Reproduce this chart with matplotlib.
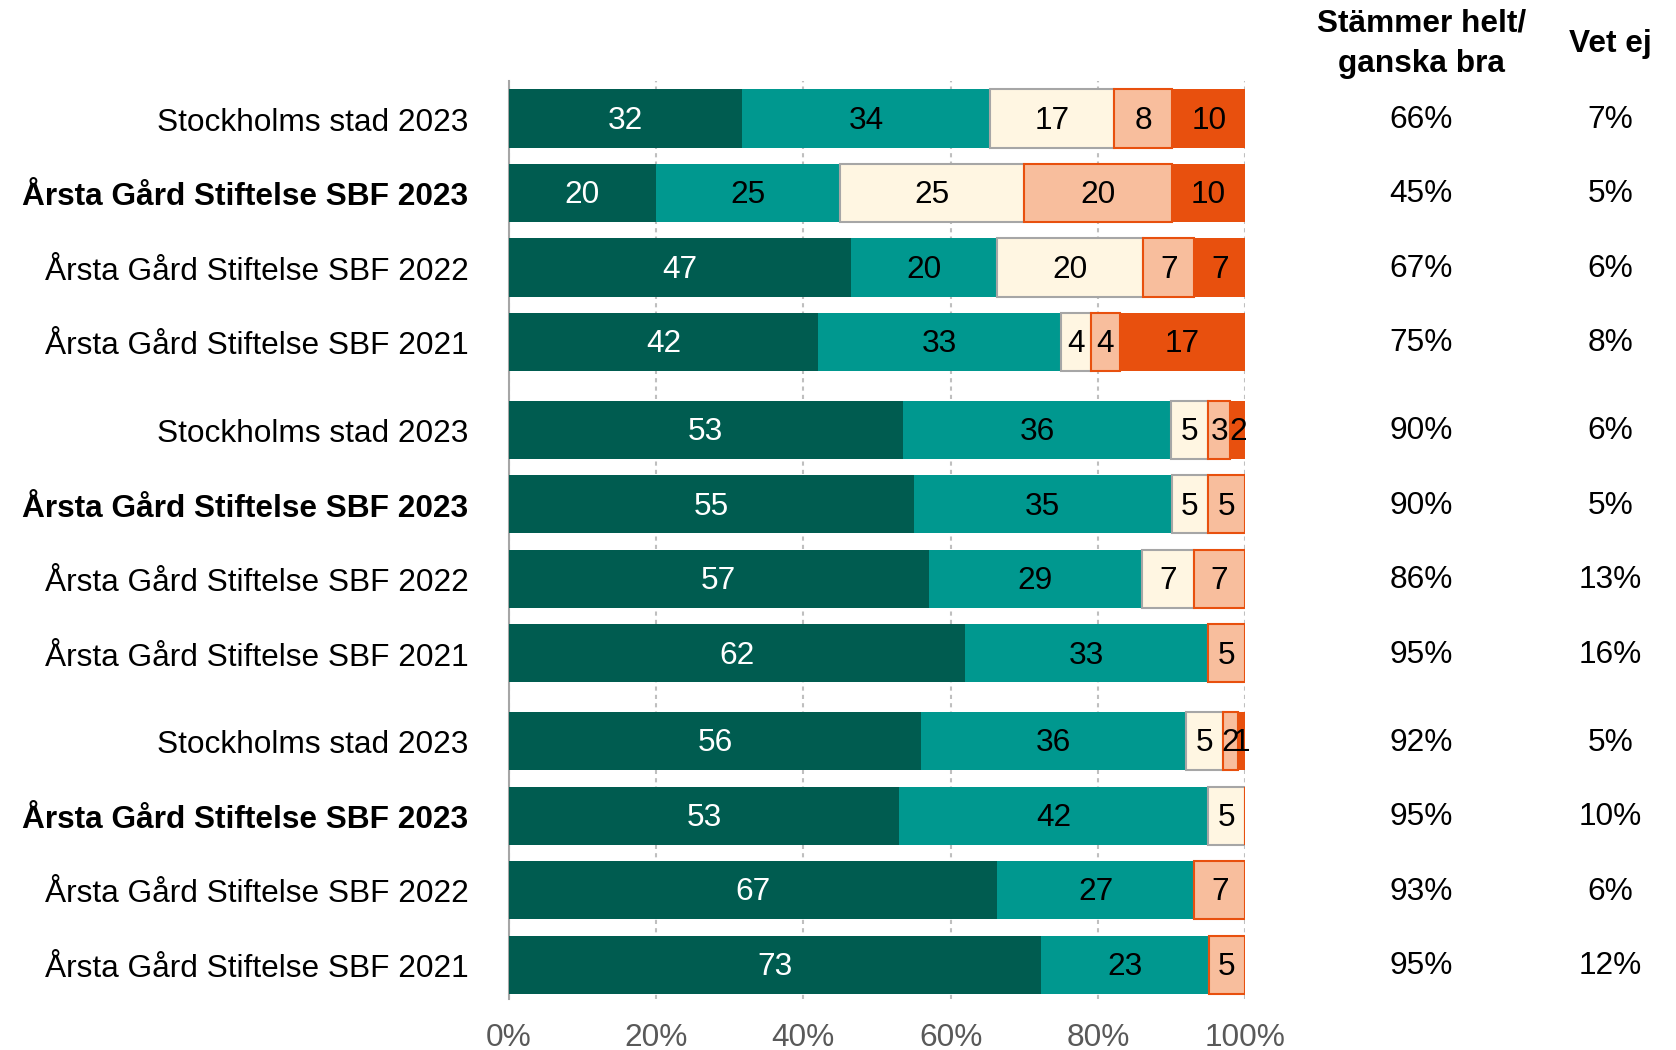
import numpy as np
import matplotlib.pyplot as plt
from matplotlib.transforms import blended_transform_factory

plt.rcParams['font.family'] = ['Liberation Sans', 'DejaVu Sans']

# Row labels (top to bottom)
labels = ['Stockholms stad 2023', 'Årsta Gård Stiftelse SBF 2023',
          'Årsta Gård Stiftelse SBF 2022', 'Årsta Gård Stiftelse SBF 2021'] * 3
bold_rows = [1, 5, 9]

# Segment values per row: stämmer helt, ganska bra, varken/eller, ganska dåligt, helt dåligt
seg1 = [32, 20, 47, 42, 53, 55, 57, 62, 56, 53, 67, 73]
seg2 = [34, 25, 20, 33, 36, 35, 29, 33, 36, 42, 27, 23]
seg3 = [17, 25, 20, 4, 5, 5, 7, 0, 5, 5, 0, 0]
seg4 = [8, 20, 7, 4, 3, 5, 7, 5, 2, 0, 7, 5]
seg5 = [10, 10, 7, 17, 2, 0, 0, 0, 1, 0, 0, 0]

agree = ['66%', '45%', '67%', '75%', '90%', '90%', '86%', '95%', '92%', '95%', '93%', '95%']
dont_know = ['7%', '5%', '6%', '8%', '6%', '5%', '13%', '16%', '5%', '10%', '6%', '12%']

colors = ['#005C50', '#00988F', '#FFF6E2', '#F8BE9D', '#E8500E']
edges = ['none', 'none', '#A6A6A6', '#E8500E', 'none']
text_colors = ['white', 'black', 'black', 'black', 'black']

data = np.array([seg1, seg2, seg3, seg4, seg5], dtype=float)
shares = data / data.sum(axis=0) * 100

gap = 0.18
ypos = np.array([i + (i // 4) * gap for i in range(12)])
fs = 22.8

fig = plt.figure(figsize=(16.76, 10.5), dpi=100)
ax = fig.add_axes([0.3035, 0.0486, 0.4395, 0.8744])

left = np.zeros(12)
for k in range(5):
    ax.barh(ypos, shares[k], left=left, height=0.78, color=colors[k],
            edgecolor=edges[k], linewidth=1.5, zorder=3)
    for i in range(12):
        if data[k, i] > 0:
            ax.text(left[i] + shares[k, i] / 2, ypos[i] + 0.03, f'{int(data[k, i])}',
                    ha='center', va='center', fontsize=fs, color=text_colors[k], zorder=4)
    left += shares[k]

ax.set_xlim(0, 100)
ax.set_ylim(ypos[-1] + 0.46, -0.505)
ax.set_xticks([0, 20, 40, 60, 80, 100])
ax.set_xticklabels(['0%', '20%', '40%', '60%', '80%', '100%'], fontsize=fs, color='#595959')
ax.tick_params(axis='x', length=0, pad=17)
ax.set_yticks(ypos + 0.01)
ax.set_yticklabels(labels, fontsize=fs)
ax.tick_params(axis='y', length=0, pad=29)
for i in bold_rows:
    ax.get_yticklabels()[i].set_fontweight('bold')

ax.grid(axis='x', color='#BFBFBF', linestyle=(0, (2, 2)), linewidth=1.5, zorder=0)
for s in ['top', 'right', 'bottom']:
    ax.spines[s].set_visible(False)
ax.spines['left'].set_color('#A6A6A6')
ax.spines['left'].set_linewidth(1.5)

trans = blended_transform_factory(fig.transFigure, ax.transData)
for i in range(12):
    ax.text(0.848, ypos[i] + 0.02, agree[i], transform=trans, ha='center', va='center', fontsize=fs)
    ax.text(0.961, ypos[i] + 0.02, dont_know[i], transform=trans, ha='center', va='center', fontsize=fs)

fig.text(0.848, 0.958, 'Stämmer helt/\nganska bra', ha='center', va='center',
         fontsize=fs, fontweight='bold', linespacing=1.45)
fig.text(0.961, 0.958, 'Vet ej', ha='center', va='center', fontsize=fs, fontweight='bold')

fig.savefig('out.png', dpi=100)
